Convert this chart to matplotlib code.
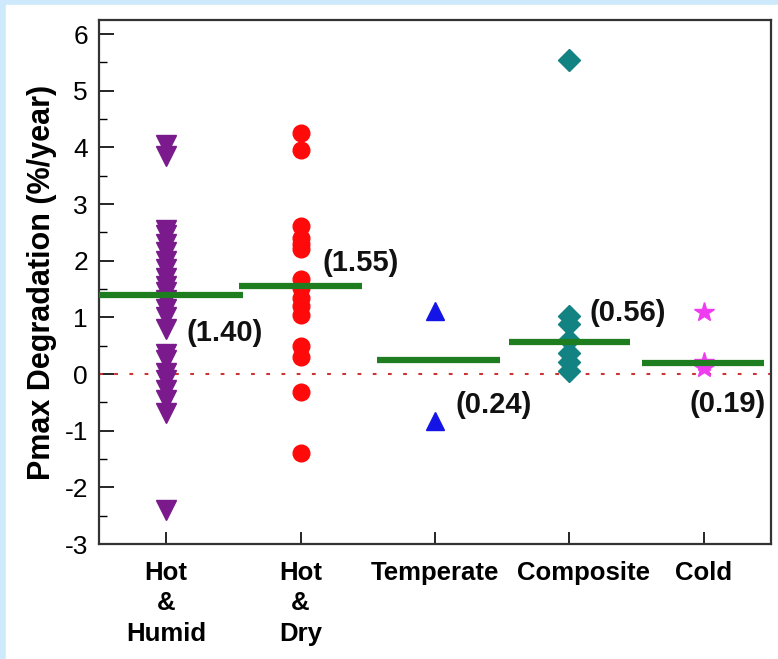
import matplotlib
matplotlib.use("Agg")
import matplotlib.pyplot as plt
import matplotlib.transforms as mtransforms
from matplotlib.patches import Rectangle
from matplotlib.ticker import MultipleLocator

plt.rcParams['font.family'] = ['Liberation Sans', 'DejaVu Sans']
plt.rcParams['axes.unicode_minus'] = False

# climate zones and degradation rates (%/year) per module
climates = ['Hot\n&\nHumid', 'Hot\n&\nDry', 'Temperate', 'Composite', 'Cold']
hot_humid = [4.05, 3.85, 2.55, 2.45, 2.3, 2.15, 2.0, 1.85, 1.7, 1.55, 1.45, 1.3,
             1.15, 1.0, 0.8, 0.35, 0.25, 0.02, -0.1, -0.28, -0.45, -0.68, -2.4]
hot_dry = [4.25, 3.95, 2.62, 2.4, 2.3, 2.2, 1.68, 1.52, 1.35, 1.2, 1.05,
           0.5, 0.3, -0.32, -1.4]
temperate = [1.12, -0.82]
composite = [5.55, 1.02, 0.88, 0.6, 0.38, 0.22, 0.05]
cold = [1.1, 0.22, 0.1]
means = [1.40, 1.55, 0.24, 0.56, 0.19]
mean_labels = ['(1.40)', '(1.55)', '(0.24)', '(0.56)', '(0.19)']

groups = [hot_humid, hot_dry, temperate, composite, cold]
styles = [('v', '#7a1a8c', 14), ('o', '#ff0a0a', 12), ('^', '#1414e6', 13),
          ('D', '#138282', 11), ('*', '#f03cf0', 15)]

fig = plt.figure(figsize=(7.78, 6.59), dpi=100, facecolor='#cde9fb')
# white page area inside the light blue frame
fig.patches.append(Rectangle((6 / 778, 0), 1, (659 - 5) / 659,
                             transform=fig.transFigure, color='white', zorder=-10))

ax = fig.add_axes([99 / 778, (659 - 544) / 659, 672 / 778, 524 / 659])
ax.set_facecolor('white')

for i, (vals, (mk, col, ms)) in enumerate(zip(groups, styles)):
    x = i + 1
    ax.plot([x] * len(vals), vals, linestyle='none', marker=mk, color=col,
            markersize=ms, markeredgecolor=col, zorder=3)

# zero reference line
ax.axhline(0, color='#cc3333', linestyle=(0, (1.8, 5.5)), linewidth=1.5, zorder=2)

# mean lines for each climate
spans = [(0.43, 1.57), (1.54, 2.46), (2.57, 3.48), (3.55, 4.45), (4.54, 5.45)]
for (x0, x1), m in zip(spans, means):
    ax.plot([x0, x1], [m, m], color='#1e7d1e', linewidth=4.5,
            solid_capstyle='butt', zorder=4)

# mean value labels
label_pos = [(1.15, 0.72), (2.16, 1.96), (3.15, -0.55), (4.15, 1.08), (4.89, -0.53)]
for (tx, ty), s in zip(label_pos, mean_labels):
    ax.text(tx, ty, s, ha='left', va='center', fontsize=21, fontweight='bold',
            color='#111111', zorder=5)

ax.set_xlim(0.5, 5.5)
ax.set_ylim(-3, 6.25)
ax.set_xticks(range(1, 6))
ax.set_xticklabels(climates, fontsize=18.5, fontweight='bold', linespacing=1.35)
ax.set_yticks(range(-3, 7))
ax.yaxis.set_minor_locator(MultipleLocator(0.5))
ax.tick_params(axis='y', which='major', direction='in', length=11, width=1.2,
               labelsize=19, pad=8)
ax.tick_params(axis='y', which='minor', direction='in', length=6, width=1.0)
ax.tick_params(axis='x', which='major', direction='in', length=9, width=1.2, pad=12)
ax.set_ylabel('Pmax Degradation (%/year)', fontsize=22, fontweight='bold', labelpad=5)

# "Composite" sits a little right of its tick
lbl = ax.get_xticklabels()[3]
lbl.set_transform(lbl.get_transform() +
                  mtransforms.ScaledTranslation(0.14, 0, fig.dpi_scale_trans))

for sp in ax.spines.values():
    sp.set_linewidth(1.6)
    sp.set_color('#333333')

fig.savefig('out.png', dpi=100, facecolor=fig.get_facecolor())
